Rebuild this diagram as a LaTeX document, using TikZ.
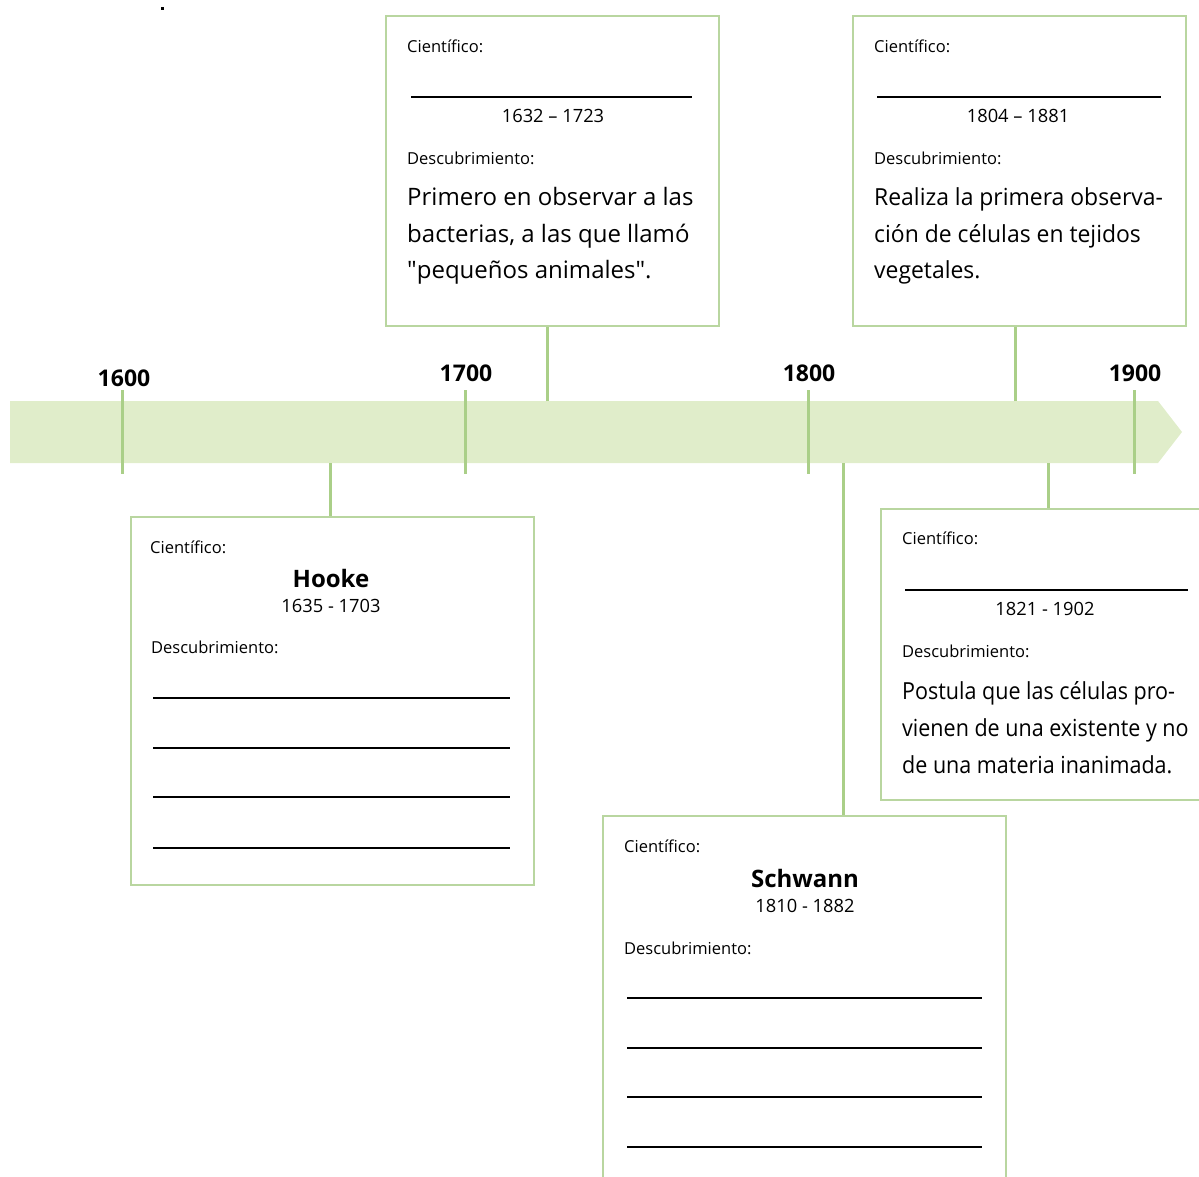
\documentclass[tikz,border=0pt]{standalone}
\usepackage{fontspec}
\setmainfont{Open Sans}
\definecolor{bandgreen}{HTML}{E0EDCA}
\definecolor{tickgreen}{HTML}{AACF88}
\definecolor{boxgreen}{HTML}{B9D6A0}
\newcommand{\narrowline}[1]{\scalebox{0.915}[1]{#1}}
\newcommand{\slimline}[1]{\scalebox{0.975}[1]{#1}}
\begin{document}
\begin{tikzpicture}[x=1pt,y=-1pt,
  cardbox/.style={draw=boxgreen,line width=2pt,fill=white,inner sep=0pt,anchor=north west},
  connline/.style={draw=tickgreen,line width=3pt},
  yeartick/.style={draw=tickgreen,line width=3pt},
  yearlbl/.style={font=\fontsize{23}{24}\selectfont\bfseries,anchor=base,inner sep=0pt},
  smalllbl/.style={font=\fontsize{16.5}{18}\selectfont,anchor=base west,inner sep=0pt},
  datestext/.style={font=\fontsize{18.3}{20}\selectfont,anchor=base,inner sep=0pt},
  nametext/.style={font=\fontsize{24}{26}\selectfont\bfseries,anchor=base,inner sep=0pt},
  bodytext/.style={font=\fontsize{23.5}{28}\selectfont,anchor=base west,inner sep=0pt},
  ruleline/.style={draw=black,line width=1.6pt}]
\useasboundingbox (0,0) rectangle (1199,1176);
% stray dot
\fill (160.5,6.5) rectangle (163.5,9.5);
% band
\fill[bandgreen] (10,401) -- (1158,401) -- (1182,432) -- (1158,463) -- (10,463) -- cycle;
% year ticks
\coordinate (t1a) at (122,390); \coordinate (t1b) at (122,474);
\coordinate (t2a) at (465,390); \coordinate (t2b) at (465,474);
\coordinate (t3a) at (808,390); \coordinate (t3b) at (808,474);
\coordinate (t4a) at (1134,390); \coordinate (t4b) at (1134,474);
\draw[yeartick] (t1a) -- (t1b);
\draw[yeartick] (t2a) -- (t2b);
\draw[yeartick] (t3a) -- (t3b);
\draw[yeartick] (t4a) -- (t4b);
\node[yearlbl] (y1600) at (124,386) {1600};
\node[yearlbl] (y1700) at (466,381) {1700};
\node[yearlbl] (y1800) at (809,381) {1800};
\node[yearlbl] (y1900) at (1135,381) {1900};

% connector anchor points on the band
\coordinate (c1) at (547,401);
\coordinate (c2) at (1015,401);
\coordinate (c3) at (330,463);
\coordinate (c4) at (843,463);
\coordinate (c5) at (1048,463);

% ---- Box 1 (Leeuwenhoek)
\node[cardbox,minimum width=333pt,minimum height=310pt] (b1) at (385,15) {};
\draw[connline] (c1) -- (c1 |- b1.south);
\node[smalllbl] (b1c) at (407,52) {Científico:};
\coordinate (b1l1) at (411,97); \coordinate (b1l2) at (692,97);
\draw[ruleline] (b1l1) -- (b1l2);
\node[datestext] (b1d) at (553,122) {1632 – 1723};
\node[smalllbl] (b1de) at (407,164) {Descubrimiento:};
\node[bodytext,font=\fontsize{24}{28}\selectfont] (b1t1) at (407,205) {Primero en observar a las};
\node[bodytext,font=\fontsize{24}{28}\selectfont] (b1t2) at (407,242) {bacterias, a las que llamó};
\node[bodytext,font=\fontsize{24}{28}\selectfont] (b1t3) at (407,278) {\textquotedbl pequeños animales\textquotedbl.};

% ---- Box 2 (Remak)
\node[cardbox,minimum width=333pt,minimum height=310pt] (b2) at (852,15) {};
\draw[connline] (c2) -- (c2 |- b2.south);
\node[smalllbl] (b2c) at (874,52) {Científico:};
\coordinate (b2l1) at (877,97); \coordinate (b2l2) at (1161,97);
\draw[ruleline] (b2l1) -- (b2l2);
\node[datestext] (b2d) at (1018,122) {1804 – 1881};
\node[smalllbl] (b2de) at (874,164) {Descubrimiento:};
\node[bodytext] (b2t1) at (874,205) {\slimline{Realiza la primera observa-}};
\node[bodytext] (b2t2) at (874,242) {\slimline{ción de células en tejidos}};
\node[bodytext] (b2t3) at (874,278) {\slimline{vegetales.}};

% ---- Box 3 (Hooke)
\node[cardbox,minimum width=403pt,minimum height=368pt] (b3) at (130,516) {};
\draw[connline] (c3) -- (c3 |- b3.north);
\node[smalllbl] (b3c) at (150,553) {Científico:};
\node[nametext] (b3n) at (331,587) {Hooke};
\node[datestext] (b3d) at (331,612) {1635 - 1703};
\node[smalllbl] (b3de) at (151,653) {Descubrimiento:};
\foreach \yy [count=\i] in {698,748,797,848}{
  \coordinate (b3a\i) at (153,\yy); \coordinate (b3b\i) at (510,\yy);
  \draw[ruleline] (b3a\i) -- (b3b\i);
}

% ---- Box 4 (Schwann)
\node[cardbox,minimum width=403pt,minimum height=380pt] (b4) at (602,815) {};
\draw[connline] (c4) -- (c4 |- b4.north);
\node[smalllbl] (b4c) at (624,852) {Científico:};
\node[nametext] (b4n) at (805,887) {Schwann};
\node[datestext] (b4d) at (805,912) {1810 - 1882};
\node[smalllbl] (b4de) at (624,954) {Descubrimiento:};
\foreach \yy [count=\i] in {998,1048,1097,1147}{
  \coordinate (b4a\i) at (627,\yy); \coordinate (b4b\i) at (982,\yy);
  \draw[ruleline] (b4a\i) -- (b4b\i);
}

% ---- Box 5 (Virchow)
\node[cardbox,minimum width=330pt,minimum height=291pt] (b5) at (880,508) {};
\draw[connline] (c5) -- (c5 |- b5.north);
\node[smalllbl] (b5c) at (902,544) {Científico:};
\coordinate (b5l1) at (905,590); \coordinate (b5l2) at (1188,590);
\draw[ruleline] (b5l1) -- (b5l2);
\node[datestext] (b5d) at (1045,615) {1821 - 1902};
\node[smalllbl] (b5de) at (902,657) {Descubrimiento:};
\node[bodytext] (b5t1) at (902,699) {\narrowline{Postula que las células pro-}};
\node[bodytext] (b5t2) at (902,736) {\narrowline{vienen de una existente y no}};
\node[bodytext] (b5t3) at (902,773) {\narrowline{de una materia inanimada.}};
\end{tikzpicture}
\end{document}
